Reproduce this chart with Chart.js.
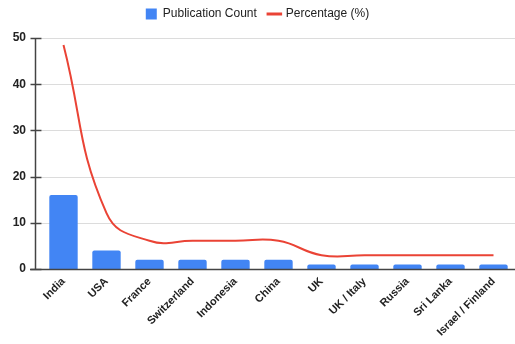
<!DOCTYPE html>
<html>
<head>
<meta charset="utf-8">
<script src="https://cdn.jsdelivr.net/npm/chart.js@4"></script>
<style>
  html, body { margin: 0; padding: 0; background: #fff; }
  #wrap { width: 515px; height: 344px; position: relative; }
</style>
</head>
<body>
<div id="wrap"><canvas id="c"></canvas></div>
<script>
// Countries and publication counts
const countries = ['India', 'USA', 'France', 'Switzerland', 'Indonesia', 'China', 'UK', 'UK / Italy', 'Russia', 'Sri Lanka', 'Israel / Finland'];
const publicationCount = [16, 4, 2, 2, 2, 2, 1, 1, 1, 1, 1];
const percentage = [48.5, 12.1, 6.1, 6.1, 6.1, 6.1, 3.0, 3.0, 3.0, 3.0, 3.0];
const yTicks = [0, 10, 20, 30, 40, 50];

const FONT = '"Liberation Sans", Arial, sans-serif';
const AXIS_OFFSET = 7; // y axis line sits a little left of the first category band

// Legend sits close to the top edge, with extra room between it and the plot
const legendSpacer = {
  id: 'legendSpacer',
  beforeInit(chart) {
    const legend = chart.legend;
    const origFit = legend.fit;
    legend.fit = function () {
      origFit.call(this);
      this.height += 4;
    };
    const origDraw = legend.draw;
    legend.draw = function () {
      const ctx = this.ctx;
      ctx.save();
      ctx.translate(0, -4);
      origDraw.call(this);
      ctx.restore();
    };
  }
};

// Draws horizontal gridlines, the y axis line with its ticks, and the x axis baseline
const axesPlugin = {
  id: 'axesPlugin',
  beforeDatasetsDraw(chart) {
    const { ctx, chartArea, scales } = chart;
    const y = scales.y;
    const axisX = Math.round(chartArea.left - AXIS_OFFSET) + 0.5;
    ctx.save();
    ctx.lineWidth = 1;
    ctx.strokeStyle = '#dcdcdc';
    yTicks.forEach(v => {
      if (v === 0) return;
      const py = Math.round(y.getPixelForValue(v)) + 0.5;
      ctx.beginPath();
      ctx.moveTo(axisX + 6, py);
      ctx.lineTo(chartArea.right, py);
      ctx.stroke();
    });
    ctx.strokeStyle = '#444';
    ctx.lineWidth = 1.5;
    // y axis line
    ctx.beginPath();
    ctx.moveTo(axisX, y.getPixelForValue(50));
    ctx.lineTo(axisX, y.getPixelForValue(0));
    ctx.stroke();
    // tick marks crossing the axis
    yTicks.forEach(v => {
      const py = Math.round(y.getPixelForValue(v)) + 0.5;
      ctx.beginPath();
      ctx.moveTo(axisX - 5, py);
      ctx.lineTo(axisX + 6, py);
      ctx.stroke();
    });
    ctx.restore();
  },
  afterDatasetsDraw(chart) {
    const { ctx, chartArea, scales } = chart;
    const axisX = Math.round(chartArea.left - AXIS_OFFSET);
    const py = Math.round(scales.y.getPixelForValue(0)) + 0.5;
    ctx.save();
    ctx.strokeStyle = '#444';
    ctx.lineWidth = 1.5;
    ctx.beginPath();
    ctx.moveTo(axisX - 5, py);
    ctx.lineTo(chartArea.right, py);
    ctx.stroke();
    ctx.restore();
  }
};

new Chart(document.getElementById('c'), {
  data: {
    labels: countries,
    datasets: [
      {
        type: 'line',
        label: 'Percentage (%)',
        data: percentage,
        borderColor: '#ea4335',
        backgroundColor: '#ea4335',
        borderWidth: 2,
        pointRadius: 0,
        tension: 0.45,
        pointStyle: 'line',
        order: 0
      },
      {
        type: 'bar',
        label: 'Publication Count',
        data: publicationCount,
        backgroundColor: '#4285f4',
        borderRadius: 2,
        borderSkipped: 'bottom',
        categoryPercentage: 0.66,
        barPercentage: 1.0,
        pointStyle: 'rect',
        order: 1
      }
    ]
  },
  options: {
    responsive: true,
    maintainAspectRatio: false,
    animation: false,
    layout: { padding: { top: 0, right: 0, left: 0, bottom: 0 } },
    plugins: {
      legend: {
        position: 'top',
        align: 'center',
        reverse: true,
        labels: {
          usePointStyle: true,
          boxWidth: 11,
          boxHeight: 11,
          padding: 12,
          color: '#222',
          font: { family: FONT, size: 12 },
          generateLabels(chart) {
            const items = Chart.defaults.plugins.legend.labels.generateLabels(chart);
            items.forEach(it => {
              if (it.pointStyle === 'line') it.lineWidth = 3;
            });
            return items;
          }
        }
      },
      tooltip: { enabled: false }
    },
    scales: {
      x: {
        offset: true,
        grid: { display: false, drawTicks: false },
        border: { display: false },
        ticks: {
          autoSkip: false,
          maxRotation: 45,
          minRotation: 45,
          padding: 6,
          color: '#222',
          font: { family: FONT, size: 11, weight: 'bold' }
        },
        afterFit(scale) { scale.height = 75; }
      },
      y: {
        min: 0,
        max: 50,
        grid: { display: false, drawTicks: false },
        border: { display: false },
        ticks: {
          stepSize: 10,
          padding: 16,
          color: '#222',
          font: { family: FONT, size: 12, weight: 'bold' }
        },
        afterFit(scale) { scale.width = 42; }
      }
    }
  },
  plugins: [legendSpacer, axesPlugin]
});
</script>
</body>
</html>
